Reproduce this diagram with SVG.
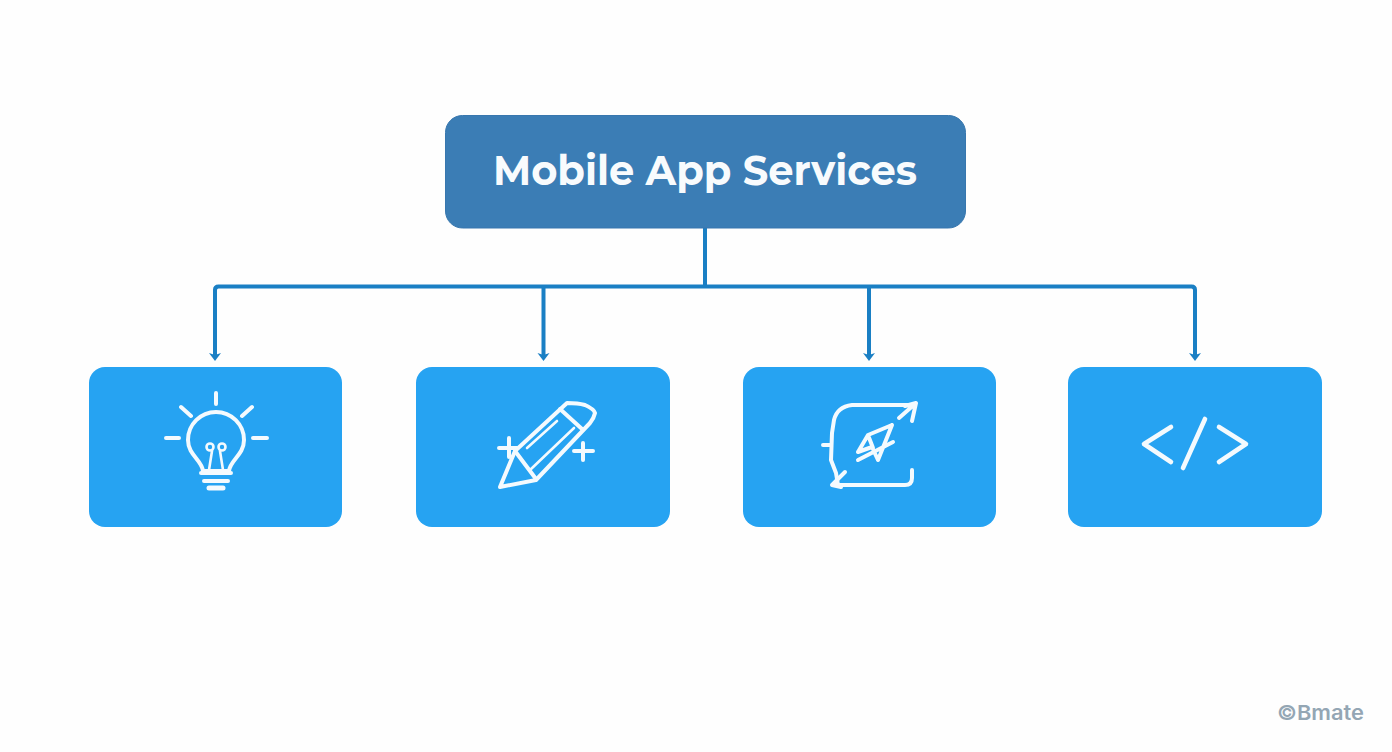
<svg xmlns="http://www.w3.org/2000/svg" width="1392" height="752" viewBox="0 0 1392 752">
<defs>
<style>
.card{fill:#26a3f2}
.root{fill:#3b7db5;stroke:#3877ae;stroke-width:1}
.icon{fill:none;stroke:#f4fafe;stroke-width:4;stroke-linecap:round;stroke-linejoin:round}
.code{stroke-width:4.600}
.fine{stroke-width:2.600}
.conn{fill:none;stroke:#1a7fc4;stroke-width:4;stroke-linejoin:round}
.title{font-family:"Montserrat","Inter","Liberation Sans",sans-serif;font-weight:700;font-size:41px;fill:#f8fbfd}
.mark{font-family:"Inter","Liberation Sans",sans-serif;font-weight:600;font-size:20.500px;fill:#94a6b4}
</style>
<marker id="arrow" markerUnits="userSpaceOnUse" markerWidth="9" markerHeight="13" refX="3.500" refY="6.500" orient="auto-start-reverse" viewBox="0 0 9 13">
<path d="M0.500 0.500 L2.500 6.500 L0.500 12.500 L8.500 6.500 Z" fill="#1a7fc4"/>
</marker>
</defs>
<rect width="1392" height="752" fill="#fefefe"/>
<g id="connectors">
<path class="conn" d="M705 228V286.500"/>
<path class="conn" d="M215 356V290Q215 286.500 218.500 286.500H1191.500Q1195 286.500 1195 290V356" marker-start="url(#arrow)" marker-end="url(#arrow)"/>
<path class="conn" d="M543.500 287V356" marker-end="url(#arrow)"/>
<path class="conn" d="M869 287V356" marker-end="url(#arrow)"/>
</g>
<g id="root">
<rect class="root" x="445.500" y="115.500" width="520" height="112.500" rx="17"/>
<text class="title" x="705" y="185" text-anchor="middle" textLength="424" lengthAdjust="spacingAndGlyphs">Mobile App Services</text>
</g>
<g id="idea">
<rect class="card" x="89" y="367" width="253" height="160" rx="16"/>
<g class="icon">
<path d="M216 393V404M181 407L191 416M252 407L242 416M166 438H179M253 438H267"/>
<path d="M203 471C202 460 188 455 188 440A28 28 0 0 1 244 440C244 455 230 460 229 471Z"/>
<path class="fine" d="M209 470L212 451M223 470L220 451"/>
<circle class="fine" cx="210" cy="447" r="3.500"/><circle class="fine" cx="222" cy="447" r="3.500"/>
<path d="M201 473H231M204 481H228"/>
<path stroke-width="5" d="M209 488H223"/>
</g>
</g>
<g id="design">
<rect class="card" x="416" y="367" width="254" height="160" rx="16"/>
<g class="icon">
<path d="M500 487L515 451L567 403Q578 403 585 405Q594 409 595 413Q594 418 590 423L536 480Z"/>
<path d="M515 451L536 479M560 409L582 429"/>
<path class="fine" d="M527 448L557 421M530 470L574 428"/>
<path d="M509 438V457M499 448H517M583 443V460M574 451H593"/>
</g>
</g>
<g id="strategy">
<rect class="card" x="743" y="367" width="253" height="160" rx="16"/>
<g class="icon">
<path d="M908 405H852Q837 407 834 420L832 433L831 460L836 473L838 485H905Q912 485 912 478V470"/>
<path d="M823 445H831M899 418L916 403M905 406L916 403L912 421M845 472L832 485L841 487"/>
<path d="M892 425L868 435L858 452M892 425L878 460M868 435L873 448M858 460L893 442M858 452L872 447L878 460"/>
</g>
</g>
<g id="code">
<rect class="card" x="1068" y="367" width="254" height="160" rx="16"/>
<g class="icon code">
<path d="M1171 427L1144 444L1171 462M1219 427L1246 444L1219 462M1205 419L1183 468"/>
</g>
</g>
<text class="mark" x="1277" y="720" textLength="87" lengthAdjust="spacingAndGlyphs">©Bmate</text>
</svg>
